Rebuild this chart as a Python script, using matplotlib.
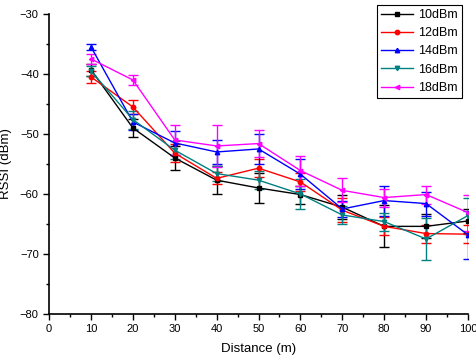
import numpy as np
import matplotlib
matplotlib.use("Agg")
import matplotlib.pyplot as plt
from matplotlib.ticker import MultipleLocator
from matplotlib.lines import Line2D

plt.rcParams["font.family"] = ["Liberation Sans", "DejaVu Sans"]

distance = [10, 20, 30, 40, 50, 60, 70, 80, 90, 100]
labels = ["10dBm", "12dBm", "14dBm", "16dBm", "18dBm"]

rssi_10 = [-39.3, -49.0, -54.0, -57.7, -59.0, -60.1, -62.2, -65.4, -65.4, -64.5]
rssi_12 = [-40.5, -45.5, -53.2, -57.4, -55.7, -58.0, -62.7, -65.4, -66.6, -66.7]
rssi_14 = [-35.5, -48.0, -51.5, -53.0, -52.5, -56.7, -62.5, -61.1, -61.6, -66.8]
rssi_16 = [-39.5, -47.6, -52.7, -56.6, -57.7, -60.0, -63.5, -64.6, -67.5, -63.6]
rssi_18 = [-37.5, -41.0, -51.0, -52.0, -51.6, -56.1, -59.4, -60.6, -60.1, -63.1]

err_10 = [1.0, 1.5, 2.0, 2.3, 2.5, 1.5, 2.0, 3.5, 2.0, 2.0]
err_12 = [1.0, 1.2, 1.5, 1.0, 1.5, 1.5, 2.0, 1.5, 1.5, 1.5]
err_14 = [0.5, 1.3, 2.0, 2.0, 2.5, 2.5, 1.3, 2.5, 2.0, 4.0]
err_16 = [0.8, 1.5, 1.5, 1.3, 1.5, 2.5, 1.5, 1.5, 3.5, 3.0]
err_18 = [0.8, 0.8, 2.5, 3.5, 2.3, 2.5, 2.0, 1.5, 1.5, 3.0]

series = [rssi_10, rssi_12, rssi_14, rssi_16, rssi_18]
errors = [err_10, err_12, err_14, err_16, err_18]
colors = ["black", "red", "blue", "#008080", "#ff00ff"]
markers = ["s", "o", "^", "v", "<"]

fig = plt.figure(figsize=(4.77, 3.58), dpi=100)
ax = fig.add_axes([0.103, 0.123, 0.878, 0.838])

handles = []
for y, e, c, m, lab in zip(series, errors, colors, markers, labels):
    ax.errorbar(distance, y, yerr=e, color=c, marker=m, markersize=3.2,
                linewidth=1.0, elinewidth=1.0, capsize=3.5, capthick=1.0)
    handles.append(Line2D([], [], color=c, marker=m, markersize=3.2,
                          linewidth=1.0, label=lab))

ax.set_xlim(0, 100)
ax.set_ylim(-80, -30)
ax.xaxis.set_major_locator(MultipleLocator(10))
ax.xaxis.set_minor_locator(MultipleLocator(5))
ax.yaxis.set_major_locator(MultipleLocator(10))
ax.yaxis.set_minor_locator(MultipleLocator(5))
ax.tick_params(which="both", direction="out", labelsize=8, width=1.0)
ax.tick_params(which="major", length=4)
ax.tick_params(which="minor", length=2.5)
ax.spines["top"].set_visible(False)
ax.spines["right"].set_visible(False)
ax.spines["left"].set_linewidth(1.2)
ax.spines["bottom"].set_linewidth(1.2)

ax.set_xlabel("Distance (m)", fontsize=9.5, labelpad=6)
ax.set_ylabel("RSSI (dBm)", fontsize=9.5, labelpad=6)

leg = ax.legend(handles=handles, loc="upper right", fontsize=9, fancybox=False,
                framealpha=1, edgecolor="black", handlelength=2.6, handletextpad=0.4,
                borderpad=0.3, labelspacing=0.5, bbox_to_anchor=(1.0, 1.05))
leg.get_frame().set_linewidth(0.8)

fig.savefig("out.png", dpi=100)
